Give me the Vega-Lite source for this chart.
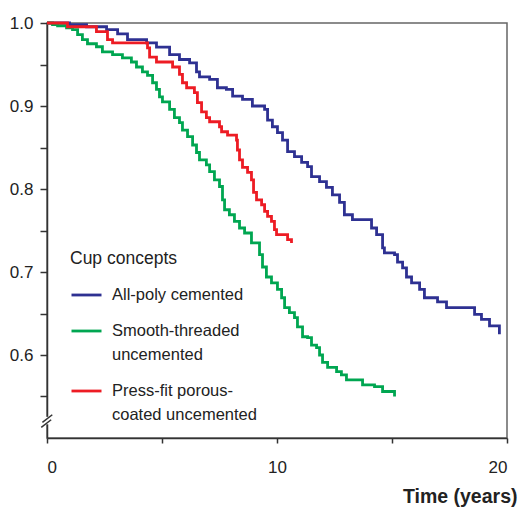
{
  "$schema": "https://vega.github.io/schema/vega-lite/v6.json",
  "width": 460,
  "height": 415,
  "autosize": {"type": "none"},
  "padding": {"left": 47, "top": 23, "right": 12, "bottom": 69},
  "background": "white",
  "config": {
    "view": {"stroke": "#666", "strokeWidth": 1.5},
    "font": "Liberation Sans",
    "style": {"guide-label": {"lineHeight": 24}},
    "axis": {"domainColor": "#333", "domainWidth": 1.5, "tickColor": "#333", "tickWidth": 1.5, "labelColor": "#222", "labelFont": "Liberation Sans", "labelFontSize": 17, "grid": false}
  },
  "datasets": {
    "km": [
      {"t": 0, "s": 1.0, "g": "All-poly cemented"},
      {"t": 0.98, "s": 0.998, "g": "All-poly cemented"},
      {"t": 1.72, "s": 0.9955, "g": "All-poly cemented"},
      {"t": 2.59, "s": 0.992, "g": "All-poly cemented"},
      {"t": 3.07, "s": 0.987, "g": "All-poly cemented"},
      {"t": 3.5, "s": 0.98, "g": "All-poly cemented"},
      {"t": 4.33, "s": 0.976, "g": "All-poly cemented"},
      {"t": 4.76, "s": 0.971, "g": "All-poly cemented"},
      {"t": 5.33, "s": 0.962, "g": "All-poly cemented"},
      {"t": 5.76, "s": 0.956, "g": "All-poly cemented"},
      {"t": 6.2, "s": 0.952, "g": "All-poly cemented"},
      {"t": 6.5, "s": 0.941, "g": "All-poly cemented"},
      {"t": 6.63, "s": 0.935, "g": "All-poly cemented"},
      {"t": 7.07, "s": 0.932, "g": "All-poly cemented"},
      {"t": 7.41, "s": 0.922, "g": "All-poly cemented"},
      {"t": 7.8, "s": 0.92, "g": "All-poly cemented"},
      {"t": 8.07, "s": 0.912, "g": "All-poly cemented"},
      {"t": 8.5, "s": 0.908, "g": "All-poly cemented"},
      {"t": 8.93, "s": 0.9, "g": "All-poly cemented"},
      {"t": 9.46, "s": 0.896, "g": "All-poly cemented"},
      {"t": 9.59, "s": 0.883, "g": "All-poly cemented"},
      {"t": 9.8, "s": 0.875, "g": "All-poly cemented"},
      {"t": 10.02, "s": 0.868, "g": "All-poly cemented"},
      {"t": 10.24, "s": 0.859, "g": "All-poly cemented"},
      {"t": 10.46, "s": 0.845, "g": "All-poly cemented"},
      {"t": 10.76, "s": 0.839, "g": "All-poly cemented"},
      {"t": 11.07, "s": 0.832, "g": "All-poly cemented"},
      {"t": 11.33, "s": 0.827, "g": "All-poly cemented"},
      {"t": 11.5, "s": 0.815, "g": "All-poly cemented"},
      {"t": 11.85, "s": 0.809, "g": "All-poly cemented"},
      {"t": 12.15, "s": 0.802, "g": "All-poly cemented"},
      {"t": 12.41, "s": 0.793, "g": "All-poly cemented"},
      {"t": 12.72, "s": 0.784, "g": "All-poly cemented"},
      {"t": 12.93, "s": 0.769, "g": "All-poly cemented"},
      {"t": 13.28, "s": 0.763, "g": "All-poly cemented"},
      {"t": 14.11, "s": 0.753, "g": "All-poly cemented"},
      {"t": 14.33, "s": 0.745, "g": "All-poly cemented"},
      {"t": 14.59, "s": 0.729, "g": "All-poly cemented"},
      {"t": 14.67, "s": 0.723, "g": "All-poly cemented"},
      {"t": 15.11, "s": 0.721, "g": "All-poly cemented"},
      {"t": 15.24, "s": 0.712, "g": "All-poly cemented"},
      {"t": 15.46, "s": 0.705, "g": "All-poly cemented"},
      {"t": 15.63, "s": 0.694, "g": "All-poly cemented"},
      {"t": 15.85, "s": 0.687, "g": "All-poly cemented"},
      {"t": 16.2, "s": 0.679, "g": "All-poly cemented"},
      {"t": 16.41, "s": 0.669, "g": "All-poly cemented"},
      {"t": 16.98, "s": 0.664, "g": "All-poly cemented"},
      {"t": 17.37, "s": 0.657, "g": "All-poly cemented"},
      {"t": 18.59, "s": 0.649, "g": "All-poly cemented"},
      {"t": 18.89, "s": 0.643, "g": "All-poly cemented"},
      {"t": 19.24, "s": 0.635, "g": "All-poly cemented"},
      {"t": 19.67, "s": 0.625, "g": "All-poly cemented"},

      {"t": 0, "s": 1.0, "g": "Smooth-threaded uncemented"},
      {"t": 0.24, "s": 0.998, "g": "Smooth-threaded uncemented"},
      {"t": 0.46, "s": 0.9967, "g": "Smooth-threaded uncemented"},
      {"t": 0.85, "s": 0.9943, "g": "Smooth-threaded uncemented"},
      {"t": 1.11, "s": 0.992, "g": "Smooth-threaded uncemented"},
      {"t": 1.33, "s": 0.986, "g": "Smooth-threaded uncemented"},
      {"t": 1.54, "s": 0.98, "g": "Smooth-threaded uncemented"},
      {"t": 1.76, "s": 0.975, "g": "Smooth-threaded uncemented"},
      {"t": 2.15, "s": 0.9714, "g": "Smooth-threaded uncemented"},
      {"t": 2.41, "s": 0.9653, "g": "Smooth-threaded uncemented"},
      {"t": 2.85, "s": 0.9618, "g": "Smooth-threaded uncemented"},
      {"t": 3.28, "s": 0.958, "g": "Smooth-threaded uncemented"},
      {"t": 3.67, "s": 0.953, "g": "Smooth-threaded uncemented"},
      {"t": 3.89, "s": 0.947, "g": "Smooth-threaded uncemented"},
      {"t": 4.15, "s": 0.941, "g": "Smooth-threaded uncemented"},
      {"t": 4.37, "s": 0.937, "g": "Smooth-threaded uncemented"},
      {"t": 4.59, "s": 0.928, "g": "Smooth-threaded uncemented"},
      {"t": 4.76, "s": 0.92, "g": "Smooth-threaded uncemented"},
      {"t": 4.89, "s": 0.911, "g": "Smooth-threaded uncemented"},
      {"t": 5.02, "s": 0.905, "g": "Smooth-threaded uncemented"},
      {"t": 5.33, "s": 0.896, "g": "Smooth-threaded uncemented"},
      {"t": 5.54, "s": 0.886, "g": "Smooth-threaded uncemented"},
      {"t": 5.76, "s": 0.88, "g": "Smooth-threaded uncemented"},
      {"t": 5.89, "s": 0.871, "g": "Smooth-threaded uncemented"},
      {"t": 6.11, "s": 0.863, "g": "Smooth-threaded uncemented"},
      {"t": 6.33, "s": 0.853, "g": "Smooth-threaded uncemented"},
      {"t": 6.5, "s": 0.844, "g": "Smooth-threaded uncemented"},
      {"t": 6.63, "s": 0.835, "g": "Smooth-threaded uncemented"},
      {"t": 6.93, "s": 0.829, "g": "Smooth-threaded uncemented"},
      {"t": 7.07, "s": 0.821, "g": "Smooth-threaded uncemented"},
      {"t": 7.28, "s": 0.811, "g": "Smooth-threaded uncemented"},
      {"t": 7.5, "s": 0.803, "g": "Smooth-threaded uncemented"},
      {"t": 7.63, "s": 0.787, "g": "Smooth-threaded uncemented"},
      {"t": 7.72, "s": 0.775, "g": "Smooth-threaded uncemented"},
      {"t": 7.93, "s": 0.769, "g": "Smooth-threaded uncemented"},
      {"t": 8.15, "s": 0.761, "g": "Smooth-threaded uncemented"},
      {"t": 8.37, "s": 0.753, "g": "Smooth-threaded uncemented"},
      {"t": 8.59, "s": 0.747, "g": "Smooth-threaded uncemented"},
      {"t": 8.89, "s": 0.735, "g": "Smooth-threaded uncemented"},
      {"t": 9.24, "s": 0.721, "g": "Smooth-threaded uncemented"},
      {"t": 9.37, "s": 0.706, "g": "Smooth-threaded uncemented"},
      {"t": 9.54, "s": 0.694, "g": "Smooth-threaded uncemented"},
      {"t": 9.76, "s": 0.687, "g": "Smooth-threaded uncemented"},
      {"t": 10.02, "s": 0.679, "g": "Smooth-threaded uncemented"},
      {"t": 10.2, "s": 0.669, "g": "Smooth-threaded uncemented"},
      {"t": 10.33, "s": 0.657, "g": "Smooth-threaded uncemented"},
      {"t": 10.54, "s": 0.651, "g": "Smooth-threaded uncemented"},
      {"t": 10.76, "s": 0.645, "g": "Smooth-threaded uncemented"},
      {"t": 10.89, "s": 0.634, "g": "Smooth-threaded uncemented"},
      {"t": 11.11, "s": 0.622, "g": "Smooth-threaded uncemented"},
      {"t": 11.33, "s": 0.621, "g": "Smooth-threaded uncemented"},
      {"t": 11.5, "s": 0.612, "g": "Smooth-threaded uncemented"},
      {"t": 11.72, "s": 0.609, "g": "Smooth-threaded uncemented"},
      {"t": 11.85, "s": 0.6, "g": "Smooth-threaded uncemented"},
      {"t": 11.98, "s": 0.591, "g": "Smooth-threaded uncemented"},
      {"t": 12.2, "s": 0.585, "g": "Smooth-threaded uncemented"},
      {"t": 12.59, "s": 0.58, "g": "Smooth-threaded uncemented"},
      {"t": 12.8, "s": 0.576, "g": "Smooth-threaded uncemented"},
      {"t": 13.02, "s": 0.57, "g": "Smooth-threaded uncemented"},
      {"t": 13.72, "s": 0.564, "g": "Smooth-threaded uncemented"},
      {"t": 14.24, "s": 0.562, "g": "Smooth-threaded uncemented"},
      {"t": 14.59, "s": 0.556, "g": "Smooth-threaded uncemented"},
      {"t": 15.11, "s": 0.55, "g": "Smooth-threaded uncemented"},

      {"t": 0, "s": 1.0, "g": "Press-fit porous-coated uncemented"},
      {"t": 0.89, "s": 0.9955, "g": "Press-fit porous-coated uncemented"},
      {"t": 2.15, "s": 0.9895, "g": "Press-fit porous-coated uncemented"},
      {"t": 2.63, "s": 0.98, "g": "Press-fit porous-coated uncemented"},
      {"t": 2.85, "s": 0.976, "g": "Press-fit porous-coated uncemented"},
      {"t": 4.37, "s": 0.97, "g": "Press-fit porous-coated uncemented"},
      {"t": 4.46, "s": 0.959, "g": "Press-fit porous-coated uncemented"},
      {"t": 4.76, "s": 0.953, "g": "Press-fit porous-coated uncemented"},
      {"t": 5.46, "s": 0.947, "g": "Press-fit porous-coated uncemented"},
      {"t": 5.76, "s": 0.938, "g": "Press-fit porous-coated uncemented"},
      {"t": 5.89, "s": 0.928, "g": "Press-fit porous-coated uncemented"},
      {"t": 6.07, "s": 0.922, "g": "Press-fit porous-coated uncemented"},
      {"t": 6.41, "s": 0.916, "g": "Press-fit porous-coated uncemented"},
      {"t": 6.54, "s": 0.904, "g": "Press-fit porous-coated uncemented"},
      {"t": 6.72, "s": 0.893, "g": "Press-fit porous-coated uncemented"},
      {"t": 6.93, "s": 0.886, "g": "Press-fit porous-coated uncemented"},
      {"t": 7.07, "s": 0.881, "g": "Press-fit porous-coated uncemented"},
      {"t": 7.5, "s": 0.875, "g": "Press-fit porous-coated uncemented"},
      {"t": 7.59, "s": 0.869, "g": "Press-fit porous-coated uncemented"},
      {"t": 7.85, "s": 0.865, "g": "Press-fit porous-coated uncemented"},
      {"t": 8.24, "s": 0.859, "g": "Press-fit porous-coated uncemented"},
      {"t": 8.28, "s": 0.847, "g": "Press-fit porous-coated uncemented"},
      {"t": 8.37, "s": 0.835, "g": "Press-fit porous-coated uncemented"},
      {"t": 8.5, "s": 0.826, "g": "Press-fit porous-coated uncemented"},
      {"t": 8.72, "s": 0.82, "g": "Press-fit porous-coated uncemented"},
      {"t": 8.89, "s": 0.811, "g": "Press-fit porous-coated uncemented"},
      {"t": 8.98, "s": 0.796, "g": "Press-fit porous-coated uncemented"},
      {"t": 9.11, "s": 0.787, "g": "Press-fit porous-coated uncemented"},
      {"t": 9.33, "s": 0.781, "g": "Press-fit porous-coated uncemented"},
      {"t": 9.46, "s": 0.773, "g": "Press-fit porous-coated uncemented"},
      {"t": 9.59, "s": 0.767, "g": "Press-fit porous-coated uncemented"},
      {"t": 9.76, "s": 0.761, "g": "Press-fit porous-coated uncemented"},
      {"t": 9.89, "s": 0.751, "g": "Press-fit porous-coated uncemented"},
      {"t": 9.98, "s": 0.745, "g": "Press-fit porous-coated uncemented"},
      {"t": 10.46, "s": 0.739, "g": "Press-fit porous-coated uncemented"},
      {"t": 10.63, "s": 0.735, "g": "Press-fit porous-coated uncemented"}
    ]
  },
  "layer": [
    {
      "data": {"name": "km"},
      "mark": {"type": "line", "interpolate": "step-after", "strokeWidth": 2.8},
      "encoding": {
        "x": {
          "field": "t", "type": "quantitative",
          "scale": {"domain": [0, 20], "nice": false},
          "axis": {
            "values": [0, 5, 10, 15, 20],
            "labelExpr": "datum.value % 10 == 0 ? datum.label : ''",
            "tickSize": 5, "labelPadding": 16,
            "title": "Time (years)", "titleFont": "Liberation Sans", "titleFontSize": 19.5, "titleFontWeight": "bold", "titleColor": "#222",
            "titleAlign": "right", "titleAnchor": "end", "titleX": 470, "titleY": 64, "titleBaseline": "alphabetic"
          }
        },
        "y": {
          "field": "s", "type": "quantitative",
          "scale": {"domain": [0.5, 1.0], "nice": false, "zero": false},
          "axis": {
            "values": [0.55, 0.6, 0.65, 0.7, 0.75, 0.8, 0.85, 0.9, 0.95, 1.0],
            "format": ".1f",
            "labelExpr": "abs(datum.value * 10 - round(datum.value * 10)) < 0.01 ? datum.label : ''",
            "tickSize": 7, "labelPadding": 7, "title": null
          }
        },
        "color": {
          "field": "g", "type": "nominal",
          "scale": {
            "domain": ["All-poly cemented", "Smooth-threaded uncemented", "Press-fit porous-coated uncemented"],
            "range": ["#2e3192", "#00a651", "#ed1c24"]
          },
          "legend": {
            "orient": "none", "legendX": 23, "legendY": 227, "padding": 0,
            "title": "Cup concepts", "titleFont": "Liberation Sans", "titleFontSize": 17.5, "titleFontWeight": "normal", "titleColor": "#222", "titlePadding": 11,
            "symbolType": "stroke", "symbolSize": 900, "symbolStrokeWidth": 2.8,
            "labelFont": "Liberation Sans", "labelFontSize": 16.5, "labelColor": "#222", "labelLimit": 0, "labelOffset": 9,
            "labelBaseline": "middle", "rowPadding": 11,
            "labelExpr": "datum.label == 'Smooth-threaded uncemented' ? ['Smooth-threaded', 'uncemented'] : datum.label == 'Press-fit porous-coated uncemented' ? ['Press-fit porous-', 'coated uncemented'] : datum.label"
          }
        }
      }
    },
    {
      "data": {"values": [{}]},
      "mark": {"type": "rule", "color": "white", "strokeWidth": 5},
      "encoding": {"x": {"datum": 0}, "y": {"datum": 0.5165}, "y2": {"datum": 0.5255}}
    },
    {
      "data": {"values": [{}]},
      "mark": {"type": "rule", "color": "#333", "strokeWidth": 1.5},
      "encoding": {"x": {"datum": -0.25}, "x2": {"datum": 0.18}, "y": {"datum": 0.5128}, "y2": {"datum": 0.522}}
    },
    {
      "data": {"values": [{}]},
      "mark": {"type": "rule", "color": "#333", "strokeWidth": 1.5},
      "encoding": {"x": {"datum": -0.2}, "x2": {"datum": 0.23}, "y": {"datum": 0.5188}, "y2": {"datum": 0.528}}
    }
  ]
}
